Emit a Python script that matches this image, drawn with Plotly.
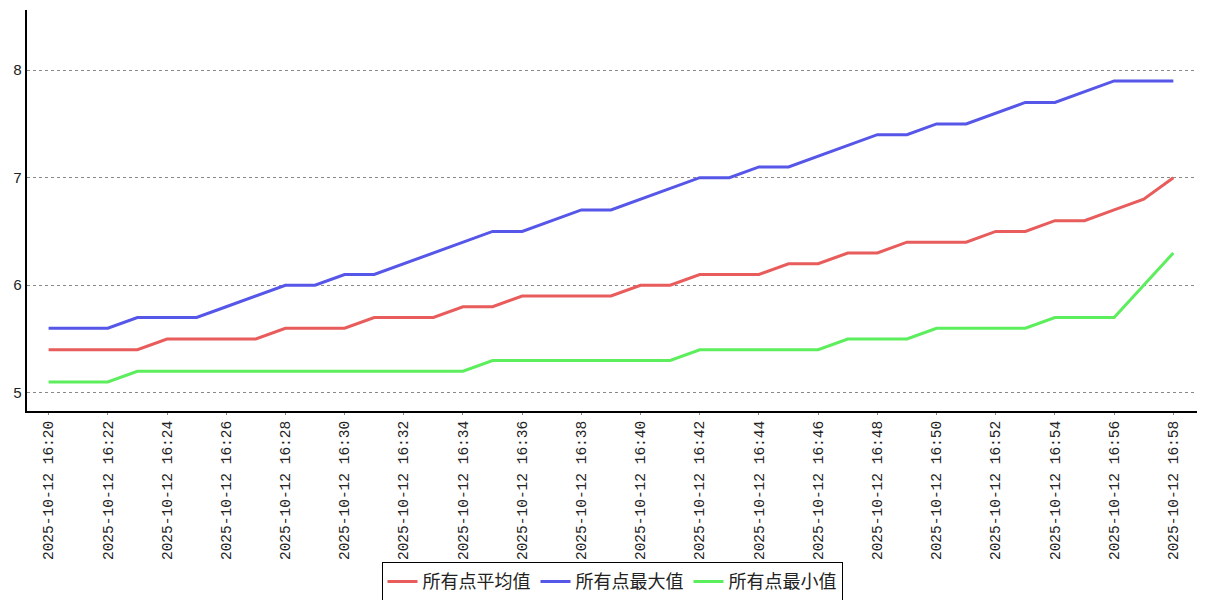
import plotly.graph_objects as go

minutes = list(range(20, 59))
times = [f"2025-10-12 16:{m:02d}" for m in minutes]

avg_vals = [5.4, 5.4, 5.4, 5.4, 5.5, 5.5, 5.5, 5.5, 5.6, 5.6, 5.6, 5.7, 5.7, 5.7,
            5.8, 5.8, 5.9, 5.9, 5.9, 5.9, 6.0, 6.0, 6.1, 6.1, 6.1, 6.2, 6.2, 6.3,
            6.3, 6.4, 6.4, 6.4, 6.5, 6.5, 6.6, 6.6, 6.7, 6.8, 7.0]
max_vals = [5.6, 5.6, 5.6, 5.7, 5.7, 5.7, 5.8, 5.9, 6.0, 6.0, 6.1, 6.1, 6.2, 6.3,
            6.4, 6.5, 6.5, 6.6, 6.7, 6.7, 6.8, 6.9, 7.0, 7.0, 7.1, 7.1, 7.2, 7.3,
            7.4, 7.4, 7.5, 7.5, 7.6, 7.7, 7.7, 7.8, 7.9, 7.9, 7.9]
min_vals = [5.1, 5.1, 5.1, 5.2, 5.2, 5.2, 5.2, 5.2, 5.2, 5.2, 5.2, 5.2, 5.2, 5.2,
            5.2, 5.3, 5.3, 5.3, 5.3, 5.3, 5.3, 5.3, 5.4, 5.4, 5.4, 5.4, 5.4, 5.5,
            5.5, 5.5, 5.6, 5.6, 5.6, 5.6, 5.7, 5.7, 5.7, 6.0, 6.3]

series_names = ["所有点平均值", "所有点最大值", "所有点最小值"]
colors = ["#e85c5c", "#5656e8", "#5cee5c"]

fig = go.Figure()
for name, vals, c in zip(series_names, [avg_vals, max_vals, min_vals], colors):
    fig.add_trace(go.Scatter(x=times, y=vals, mode="lines", name=name,
                             line=dict(color=c, width=3)))

fig.update_layout(
    width=1207, height=600,
    margin=dict(l=27, r=10, t=10, b=189, autoexpand=False),
    plot_bgcolor="white", paper_bgcolor="white",
    showlegend=True,
    legend=dict(orientation="h", x=0.5, xanchor="center", y=-0.377, yanchor="top",
                bordercolor="black", borderwidth=1,
                font=dict(family="Noto Sans CJK SC", size=18, color="#222"),
                itemwidth=30, tracegroupgap=0),
)
fig.update_xaxes(
    type="category", range=[-0.73, 38.8], automargin=False,
    tickvals=times[::2], ticktext=times[::2], tickangle=-90,
    tickfont=dict(family="Liberation Mono", size=14.5, color="#222"),
    showline=True, linecolor="black", linewidth=2,
    ticks="outside", ticklen=2, tickcolor="#888",
    showgrid=False, zeroline=False,
)
fig.update_yaxes(
    range=[4.83, 8.56], dtick=1, automargin=False,
    tickfont=dict(family="Liberation Mono", size=15, color="#222"),
    showline=True, linecolor="black", linewidth=2,
    showgrid=True, gridcolor="#888", griddash="dot", gridwidth=1,
    zeroline=False, ticks="",
)
fig.write_html("out.html", config={"displayModeBar": False},
               post_script="document.body.style.margin='0';document.body.style.padding='0';")
